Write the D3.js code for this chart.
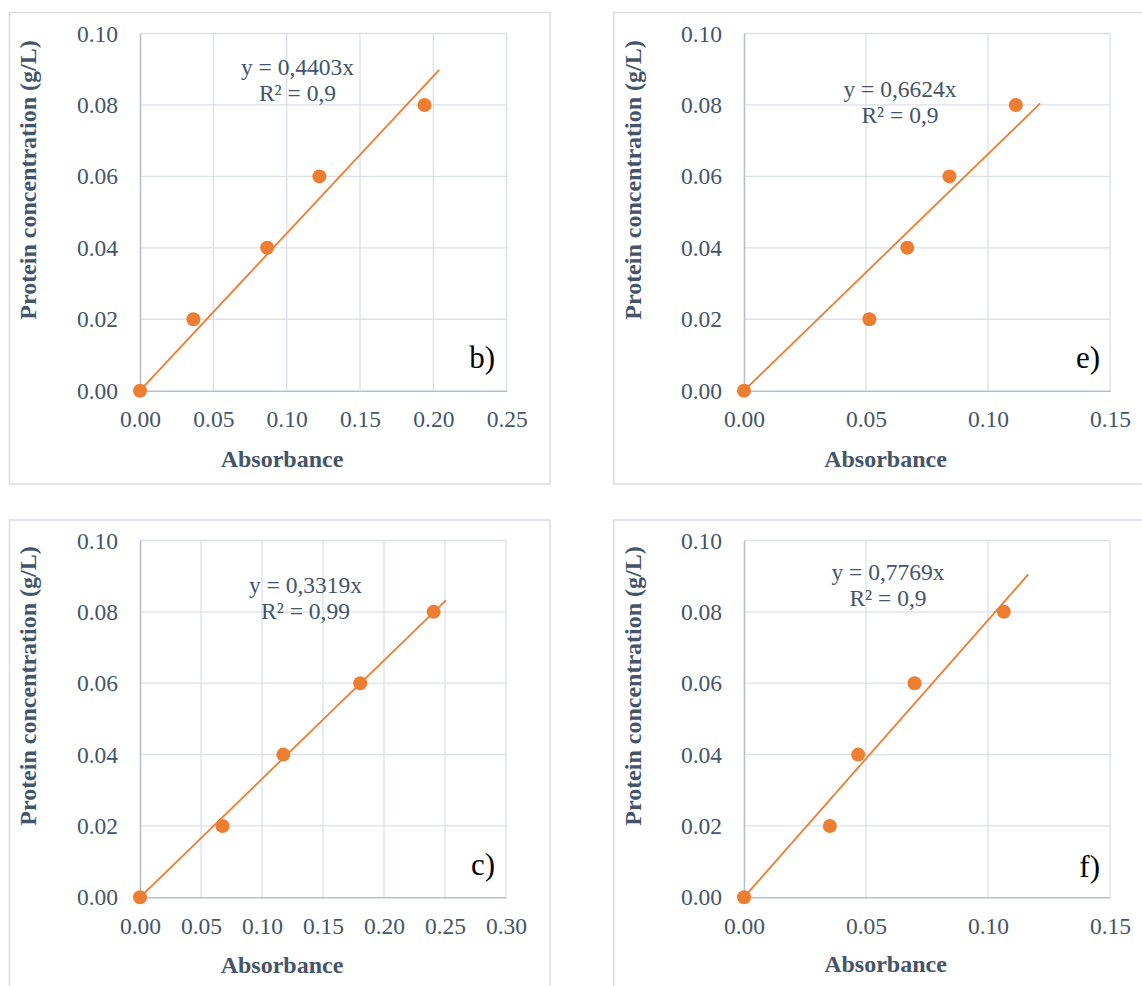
<!DOCTYPE html>
<html>
<head>
<meta charset="utf-8">
<script src="https://cdn.jsdelivr.net/npm/d3@7"></script>
<style>
  html, body { margin: 0; padding: 0; background: #fff; }
  svg { display: block; }
</style>
</head>
<body>
<svg id="chart" width="1142" height="986"></svg>
<script>
// Calibration data: protein concentration (g/L) against measured absorbance
const concentration = [0, 0.02, 0.04, 0.06, 0.08];
const absorbanceB = [0, 0.0364, 0.0867, 0.1223, 0.1940];
const absorbanceE = [0, 0.0514, 0.0669, 0.0842, 0.1114];
const absorbanceC = [0, 0.0677, 0.1175, 0.1805, 0.2407];
const absorbanceF = [0, 0.0352, 0.0468, 0.0699, 0.1065];

// Linear fits through the origin (y = slope * x)
const slopes = [0.4403, 0.6624, 0.3319, 0.7769];
const slopeLabels = ["0,4403", "0,6624", "0,3319", "0,7769"];
const r2Labels = ["0,9", "0,9", "0,99", "0,9"];
const panelTags = ["b)", "e)", "c)", "f)"];

// Axis ranges and ticks
const xMaxima = [0.25, 0.15, 0.30, 0.15];
const xTickStep = 0.05;
const yTicks = [0, 0.02, 0.04, 0.06, 0.08, 0.10];
const trendForward = 0.01;   // trendline extends this far beyond the last point
const xTitle = "Absorbance";
const yTitle = "Protein concentration (g/L)";

const seriesX = [absorbanceB, absorbanceE, absorbanceC, absorbanceF];

// Page geometry for the four panels (2 x 2 grid)
const layout = [
  { frame: [9.5, 12.5, 540.5, 471.5], plot: [140, 33.5, 506.7, 390.7], eq: [297.5, 75],  tag: [495, 368],  xt: [282, 466.5],   yt: [35.5, 180] },
  { frame: [613.8, 12.5, 600, 471.5], plot: [744, 33.5, 1110, 390.7],  eq: [900, 97],    tag: [1100, 368], xt: [885.5, 466.5], yt: [641, 180] },
  { frame: [9.5, 520, 540.5, 500],    plot: [140, 540.5, 506, 897.3],  eq: [305.5, 593], tag: [495, 875],  xt: [282, 973],     yt: [35.5, 686] },
  { frame: [613.8, 520, 600, 500],    plot: [744, 540.5, 1110, 897.3], eq: [888, 580],   tag: [1100, 877], xt: [885.5, 972],   yt: [641, 686] }
];

const C = {
  text: "#44546A",
  grid: "#dce0e7",
  axis: "#b6bfcd",
  frame: "#d9dde3",
  orange: "#ED7D31"
};
const FONT = "'Liberation Serif', Tinos, 'Times New Roman', Times, 'Nimbus Roman', 'Nimbus Roman No9 L', 'DejaVu Serif', serif";
const tickFont = 23.5;
const titleFont = 24;

const svg = d3.select("#chart");
svg.append("rect").attr("width", 1142).attr("height", 986).attr("fill", "#fff");

const fmt = d3.format(".2f");

layout.forEach((L, i) => {
  const g = svg.append("g").attr("font-family", FONT);
  const [fx, fy, fw, fh] = L.frame;
  g.append("rect")
    .attr("x", fx).attr("y", fy).attr("width", fw).attr("height", fh)
    .attr("fill", "#fff").attr("stroke", C.frame).attr("stroke-width", 1.5);

  const [x0, y0, x1, y1] = L.plot;
  const xMax = xMaxima[i];
  const x = d3.scaleLinear().domain([0, xMax]).range([x0, x1]);
  const y = d3.scaleLinear().domain([0, 0.10]).range([y1, y0]);
  const xTicks = d3.range(0, Math.round(xMax / xTickStep) + 1).map(k => +(k * xTickStep).toFixed(2));

  // gridlines
  g.append("g").selectAll("line").data(xTicks.slice(1)).join("line")
    .attr("x1", d => x(d)).attr("x2", d => x(d))
    .attr("y1", y0).attr("y2", y1)
    .attr("stroke", C.grid).attr("stroke-width", 1.3);
  g.append("g").selectAll("line").data(yTicks.slice(1)).join("line")
    .attr("x1", x0).attr("x2", x1)
    .attr("y1", d => y(d)).attr("y2", d => y(d))
    .attr("stroke", C.grid).attr("stroke-width", 1.3);

  // axes
  const xAxis = g.append("g").attr("transform", `translate(0,${y1})`)
    .call(d3.axisBottom(x).tickValues(xTicks).tickFormat(fmt).tickSize(0).tickPadding(20));
  const yAxis = g.append("g").attr("transform", `translate(${x0},0)`)
    .call(d3.axisLeft(y).tickValues(yTicks).tickFormat(fmt).tickSize(0).tickPadding(22));
  [xAxis, yAxis].forEach(a => {
    a.attr("font-family", FONT).attr("font-size", tickFont);
    a.select(".domain").attr("stroke", C.axis).attr("stroke-width", 1.6);
    a.selectAll("text").attr("fill", C.text);
  });

  // axis titles
  g.append("text")
    .attr("x", L.xt[0]).attr("y", L.xt[1])
    .attr("text-anchor", "middle")
    .attr("fill", C.text).attr("font-weight", "bold")
    .attr("font-size", titleFont)
    .text(xTitle);
  g.append("text")
    .attr("transform", `translate(${L.yt[0]},${L.yt[1]}) rotate(-90)`)
    .attr("text-anchor", "middle")
    .attr("fill", C.text).attr("font-weight", "bold")
    .attr("font-size", titleFont)
    .text(yTitle);

  // trendline through the origin
  const xs = seriesX[i];
  const xEnd = d3.max(xs) + trendForward;
  const trend = [0, xEnd].map(v => [v, slopes[i] * v]);
  g.append("path")
    .datum(trend)
    .attr("d", d3.line().x(d => x(d[0])).y(d => y(d[1])))
    .attr("fill", "none").attr("stroke", C.orange).attr("stroke-width", 1.8);

  // data points
  g.append("g").selectAll("circle").data(xs.map((v, k) => [v, concentration[k]])).join("circle")
    .attr("cx", d => x(d[0])).attr("cy", d => y(d[1]))
    .attr("r", 7)
    .attr("fill", C.orange);

  // equation and R² label
  const eq = g.append("text")
    .attr("text-anchor", "middle")
    .attr("fill", C.text)
    .attr("font-size", tickFont);
  eq.append("tspan").attr("x", L.eq[0]).attr("y", L.eq[1]).text(`y = ${slopeLabels[i]}x`);
  eq.append("tspan").attr("x", L.eq[0]).attr("y", L.eq[1] + 26).text(`R² = ${r2Labels[i]}`);

  // panel tag
  g.append("text")
    .attr("x", L.tag[0]).attr("y", L.tag[1])
    .attr("text-anchor", "end")
    .attr("fill", "#000")
    .attr("font-size", 31)
    .text(panelTags[i]);
});
</script>
</body>
</html>
